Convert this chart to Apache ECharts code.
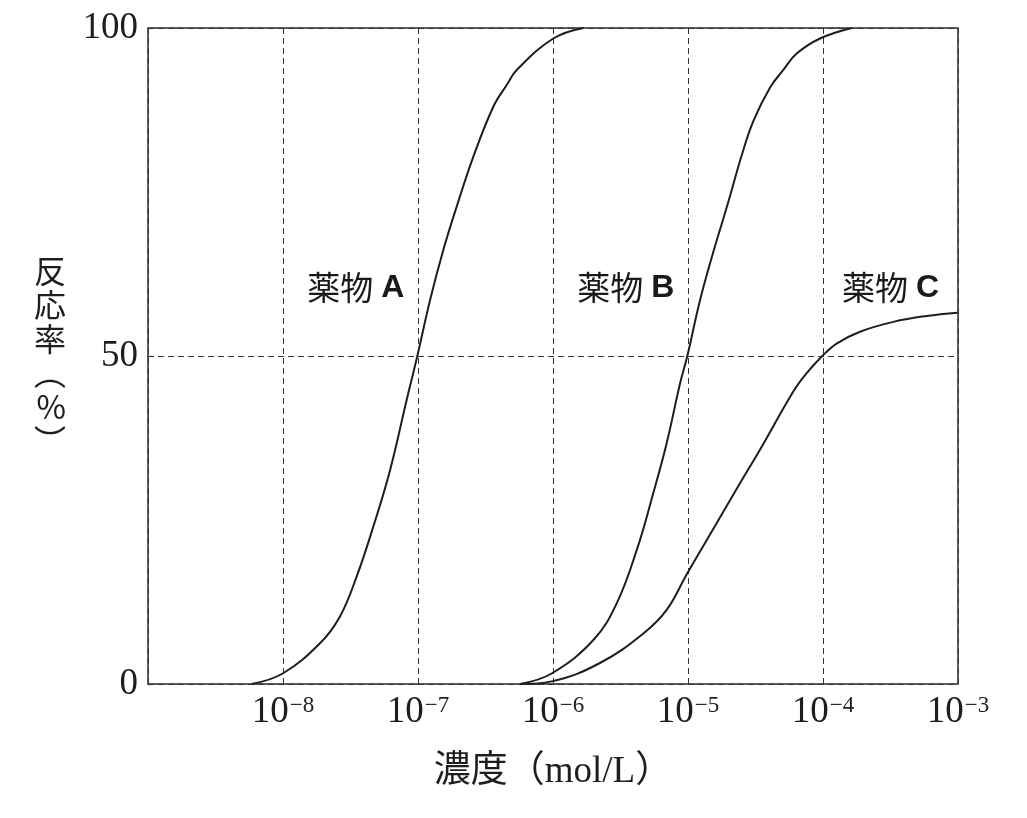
<!DOCTYPE html>
<html>
<head>
<meta charset="utf-8">
<script src="https://cdn.jsdelivr.net/npm/echarts@6/dist/echarts.min.js"></script>
<style>
html,body{margin:0;padding:0;background:#fff;}
#chart{width:1027px;height:818px;}
</style>
</head>
<body>
<div id="chart"></div>
<script>
// x values are log10 of concentration (mol/L)
const drugA_x = [-8.232, -8.002, -7.726, -7.578, -7.454, -7.331, -7.207, -7.084, -7.005, -6.911, -6.812, -6.713, -6.590, -6.442, -6.343, -6.269, -5.998, -5.775];
const drugA_y = [0, 1.6, 6.2, 10.3, 16.4, 24.0, 32.6, 43.3, 50, 58.5, 66.2, 72.8, 80.4, 88.0, 91.3, 93.6, 98.4, 100];

const drugB_x = [-6.244, -6.010, -5.701, -5.528, -5.380, -5.257, -5.158, -5.059, -5.005, -4.911, -4.812, -4.701, -4.602, -4.516, -4.393, -4.294, -4.195, -4.022, -3.787];
const drugB_y = [0, 1.6, 6.7, 12.3, 20.4, 29.1, 36.7, 45.8, 50, 58.5, 65.9, 73.5, 80.6, 85.8, 90.9, 93.6, 96.1, 98.4, 100];

const drugC_x = [-6.244, -6.010, -5.652, -5.331, -5.158, -5.005, -4.788, -4.615, -4.467, -4.220, -4.121, -4.005, -3.899, -3.726, -3.479, -3.232, -3.003];
const drugC_y = [0, 0.4, 3.2, 7.7, 11.3, 16.9, 24.5, 30.6, 35.7, 44.6, 47.4, 50, 51.9, 53.7, 55.2, 56.1, 56.6];

const drugNames = ['薬物A', '薬物B', '薬物C'];
const drugLetters = ['A', 'B', 'C'];
const labelAnchor_x = [-7.46, -5.46, -3.50];
const labelAnchor_y = [60.4, 60.4, 60.4];

const xTickExponents = [-9, -8, -7, -6, -5, -4, -3];
const yTicks = [0, 50, 100];

const zip = (xs, ys) => xs.map((x, i) => [x, ys[i]]);
const ink = '#1e1e1e';
const serif = '"Liberation Serif", "DejaVu Serif", serif';
const cjk = '"Noto Sans CJK JP", "Noto Sans", sans-serif';

const lineSeries = (name, xs, ys) => ({
  name, type: 'line', smooth: 0.4, symbol: 'none',
  data: zip(xs, ys),
  lineStyle: { color: ink, width: 2 },
  z: 5
});

const chart = echarts.init(document.getElementById('chart'));
chart.setOption({
  animation: false,
  backgroundColor: '#fff',
  grid: { left: 148, right: 69, top: 28, bottom: 134, show: true, borderColor: '#2a2a2a', borderWidth: 1.5, backgroundColor: 'transparent' },
  xAxis: {
    type: 'value', min: xTickExponents[0], max: xTickExponents[xTickExponents.length - 1], interval: 1,
    axisLine: { show: false }, axisTick: { show: false },
    splitLine: { show: true, lineStyle: { color: '#333', width: 1, type: [6, 4] } },
    axisLabel: {
      margin: 10,
      formatter: v => v <= xTickExponents[0] ? '' : '{b|10}{s|−' + Math.abs(v) + '}',
      rich: {
        b: { fontFamily: serif, fontSize: 37, color: ink, lineHeight: 36 },
        s: { fontFamily: serif, fontSize: 23, color: ink, verticalAlign: 'top', lineHeight: 18, padding: [0, 0, 0, 1] }
      }
    },
    name: '濃度（mol/L）', nameLocation: 'middle', nameGap: 70,
    nameTextStyle: { fontFamily: '"Liberation Serif", "Noto Sans CJK JP", serif', fontSize: 37, color: ink }
  },
  yAxis: {
    type: 'value', min: yTicks[0], max: yTicks[yTicks.length - 1], interval: 50,
    axisLine: { show: false },
    axisTick: { show: true, inside: true, length: 5, lineStyle: { color: '#333', width: 1.2 } },
    splitLine: { show: true, lineStyle: { color: '#333', width: 1, type: [6, 4] } },
    axisLabel: { fontFamily: serif, fontSize: 37, color: ink, margin: 10 },
    name: '反\n応\n率\n︵\n%\n︶', nameLocation: 'middle', nameRotate: 0, nameGap: 82,
    nameTextStyle: { fontFamily: cjk, fontSize: 32, lineHeight: 34, color: ink, align: 'right' }
  },
  series: [
    lineSeries(drugNames[0], drugA_x, drugA_y),
    lineSeries(drugNames[1], drugB_x, drugB_y),
    lineSeries(drugNames[2], drugC_x, drugC_y),
    {
      type: 'scatter', symbolSize: 0, silent: true, z: 6,
      itemStyle: { opacity: 1 },
      data: drugNames.map((n, i) => ({ value: [labelAnchor_x[i], labelAnchor_y[i]], name: n })),
      label: {
        show: true, position: 'inside', color: ink, opacity: 1,
        formatter: p => '{k|' + p.name.replace(drugLetters[p.dataIndex], '') + '}{l|' + drugLetters[p.dataIndex] + '}',
        rich: {
          k: { fontFamily: cjk, fontSize: 33, color: '#1a1a1a' },
          l: { fontFamily: '"Liberation Sans", Arial, sans-serif', fontWeight: 'bold', fontSize: 32, color: '#1a1a1a', padding: [0, 0, 0, 8] }
        }
      }
    }
  ]
});
</script>
</body>
</html>
